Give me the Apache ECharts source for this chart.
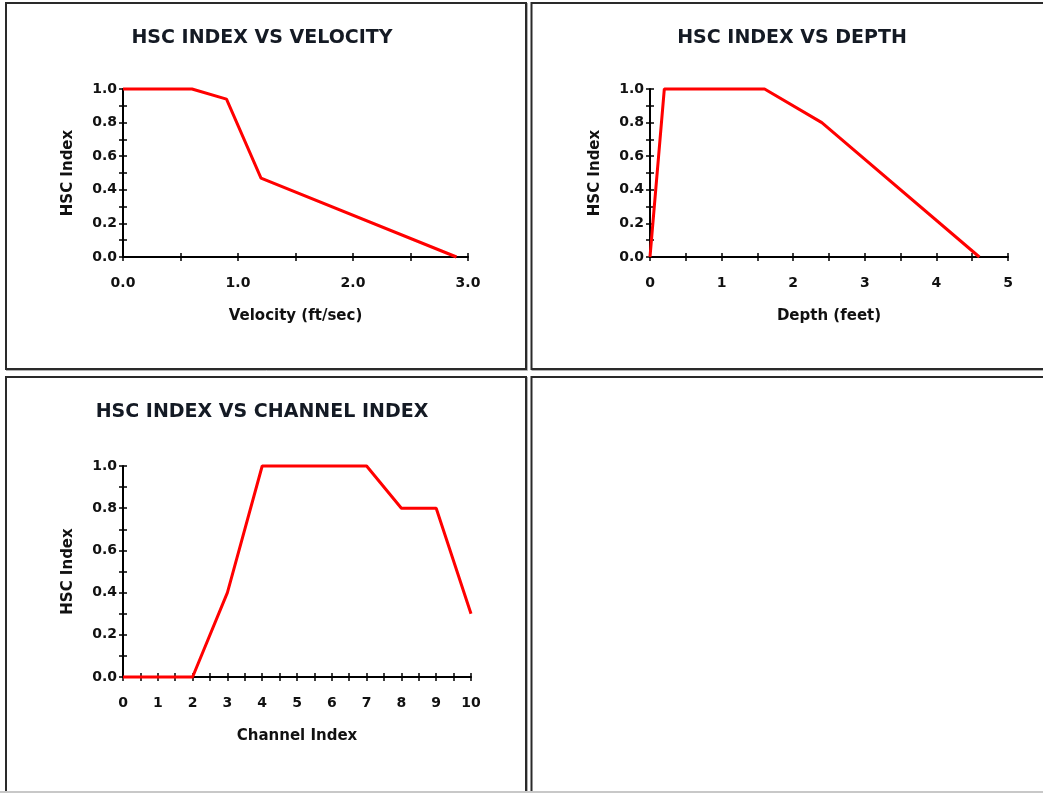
<!DOCTYPE html>
<html><head><meta charset="utf-8">
<script src="https://cdn.jsdelivr.net/npm/echarts@6/dist/echarts.min.js"></script>
<style>html,body{margin:0;padding:0;background:#fff;overflow:hidden}#c{width:1043px;height:793px}</style>
</head><body><div id="c"></div>
<script>
// ---- data ----
const velocityX = [0, 0.6, 0.9, 1.2, 2.9];
const velocityY = [1, 1, 0.94, 0.47, 0];
const depthX = [0, 0.2, 1.6, 2.4, 4.6];
const depthY = [0, 1, 1, 0.8, 0];
const channelX = [0, 1, 2, 3, 4, 5, 6, 7, 8, 9, 10];
const channelY = [0, 0, 0, 0.4, 1, 1, 1, 1, 0.8, 0.8, 0.3];
const titles = ['HSC INDEX VS VELOCITY', 'HSC INDEX VS DEPTH', 'HSC INDEX VS CHANNEL INDEX'];
const xNames = ['Velocity (ft/sec)', 'Depth (feet)', 'Channel Index'];
const yName = 'HSC Index';

const FONT = 'DejaVu Sans';
const grids = [
  {left: 123, top: 89, width: 345, height: 168},
  {left: 650, top: 89, width: 358, height: 168},
  {left: 123, top: 466, width: 348, height: 211}
];
const xCfg = [
  {max: 3, interval: 0.5, fmt: v => (Math.abs(v - Math.round(v)) < 1e-6 ? v.toFixed(1) : '')},
  {max: 5, interval: 0.5, fmt: v => (Math.abs(v - Math.round(v)) < 1e-6 ? String(Math.round(v)) : '')},
  {max: 10, interval: 0.5, fmt: v => (Math.abs(v - Math.round(v)) < 1e-6 ? String(Math.round(v)) : '')}
];
const yFmt = v => (Math.round(v * 10) % 2 === 0 ? v.toFixed(1) : '');
const pairs = (xs, ys) => xs.map((x, i) => [x, ys[i]]);
const seriesData = [pairs(velocityX, velocityY), pairs(depthX, depthY), pairs(channelX, channelY)];

const gridOpt = [], xAxes = [], yAxes = [], series = [];
grids.forEach((g, i) => {
  gridOpt.push(Object.assign({}, g));
  xAxes.push({
    type: 'value', gridIndex: 2 * i, min: 0, max: xCfg[i].max, interval: xCfg[i].interval,
    splitLine: {show: false},
    axisLine: {onZero: false, lineStyle: {color: '#000', width: 2}},
    axisTick: {inside: false, length: 4, lineStyle: {color: '#000', width: 1.5}},
    axisLabel: {interval: 0, margin: 19, formatter: xCfg[i].fmt, color: '#111', fontFamily: FONT, fontWeight: 'bold', fontSize: 14},
    name: xNames[i], nameLocation: 'middle', nameGap: 52,
    nameTextStyle: {color: '#111', fontFamily: FONT, fontWeight: 'bold', fontSize: 15}
  });
  yAxes.push({
    type: 'value', gridIndex: 2 * i, min: 0, max: 1, interval: 0.1,
    splitLine: {show: false},
    axisLine: {onZero: false, lineStyle: {color: '#000', width: 2}},
    axisTick: {inside: false, length: 4, lineStyle: {color: '#000', width: 1.5}},
    axisLabel: {interval: 0, margin: 6, formatter: yFmt, color: '#111', fontFamily: FONT, fontWeight: 'bold', fontSize: 14},
    name: yName, nameLocation: 'middle', nameGap: 47,
    nameTextStyle: {color: '#111', fontFamily: FONT, fontWeight: 'bold', fontSize: 15}
  });
  gridOpt.push(Object.assign({}, g));
  xAxes.push({
    type: 'value', gridIndex: 2 * i + 1, min: 0, max: xCfg[i].max, interval: xCfg[i].interval,
    splitLine: {show: false}, axisLine: {show: false, onZero: false},
    axisTick: {inside: true, length: 4, lineStyle: {color: '#000', width: 1.5}},
    axisLabel: {show: false}
  });
  yAxes.push({
    type: 'value', gridIndex: 2 * i + 1, min: 0, max: 1, interval: 0.1,
    splitLine: {show: false}, axisLine: {show: false, onZero: false},
    axisTick: {inside: true, length: 4, lineStyle: {color: '#000', width: 1.5}},
    axisLabel: {show: false}
  });
  series.push({
    type: 'line', xAxisIndex: 2 * i, yAxisIndex: 2 * i, data: seriesData[i],
    symbol: 'none', clip: false, z: 5,
    lineStyle: {color: '#ff0000', width: 3}
  });
});

const panelRects = [
  {x: 6, y: 3, w: 520, h: 366},
  {x: 531.5, y: 3, w: 530, h: 366},
  {x: 6, y: 377, w: 520, h: 440},
  {x: 531.5, y: 377, w: 530, h: 440}
];
const titlePos = [[262, 38], [792, 38], [262, 412]];
const graphic = [];
panelRects.forEach(r => {
  graphic.push({type: 'line', shape: {x1: r.x + r.w + 1.5, y1: r.y, x2: r.x + r.w + 1.5, y2: r.y + r.h + 1.5}, style: {stroke: '#b0b0b0', lineWidth: 1}, silent: true});
  graphic.push({type: 'line', shape: {x1: r.x, y1: r.y + r.h + 1.5, x2: r.x + r.w + 1.5, y2: r.y + r.h + 1.5}, style: {stroke: '#b0b0b0', lineWidth: 1}, silent: true});
  graphic.push({type: 'rect', shape: {x: r.x, y: r.y, width: r.w, height: r.h}, style: {fill: null, stroke: '#2a2a2a', lineWidth: 2}, silent: true});
});
graphic.push({type: 'rect', shape: {x: 0, y: 791, width: 1043, height: 2}, style: {fill: '#c8c8c8'}, silent: true});
titles.forEach((t, i) => {
  graphic.push({type: 'text', x: titlePos[i][0], y: titlePos[i][1], silent: true,
    style: {text: t, fill: '#141a24', font: 'bold 19px "DejaVu Sans"', textAlign: 'center', textVerticalAlign: 'middle'}});
});

const chart = echarts.init(document.getElementById('c'));
chart.setOption({
  animation: false,
  backgroundColor: '#fff',
  grid: gridOpt,
  xAxis: xAxes,
  yAxis: yAxes,
  series: series,
  graphic: graphic
});
</script>
</body></html>
